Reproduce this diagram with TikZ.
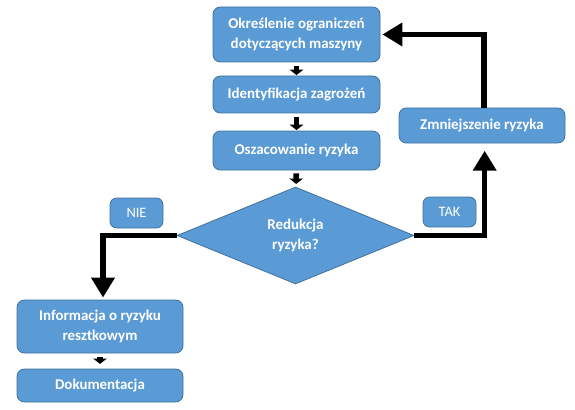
\documentclass[tikz,border=0pt]{standalone}
\usepackage{fontspec}
\setmainfont{Carlito}
\usetikzlibrary{shapes.geometric,arrows.meta}
\definecolor{boxfill}{HTML}{5B9BD5}
\definecolor{boxdraw}{HTML}{41719C}
\begin{document}
\begin{tikzpicture}[x=0.75pt,y=-0.75pt,
  box/.style={draw=boxdraw,fill=boxfill,rounded corners=5.5pt,line width=0.6pt,
    text=white,font=\bfseries\fontsize{11.2pt}{14.5pt}\selectfont,align=center,inner sep=0pt},
  lbl/.style={draw=boxdraw,fill=boxfill,rounded corners=5pt,line width=0.6pt,
    text=white,font=\fontsize{10.8pt}{12pt}\selectfont,align=center,inner sep=0pt,
    minimum width=39.75pt,minimum height=22.5pt},
  bigarrow/.style={line width=4.1pt,-{Triangle[length=15pt,width=17pt]}},
  smallarrow/.style={line width=4.2pt,-{Triangle[length=4pt,width=10pt]}}]
\useasboundingbox (0,0) rectangle (575,410);
\node[box,minimum width=125.25pt,minimum height=41.25pt] (b1) at (296.5,34.5) {Określenie ograniczeń\\dotyczących maszyny};
\node[box,minimum width=125.25pt,minimum height=27.75pt] (b2) at (296.5,94.5) {Identyfikacja zagrożeń};
\node[box,minimum width=125.25pt,minimum height=29.25pt] (b3) at (296.5,150.5) {Oszacowanie ryzyka};
\node[diamond,aspect=2.4,draw=boxdraw,fill=boxfill,line width=0.6pt,inner sep=0pt,
  minimum width=177.75pt,minimum height=72.75pt,text=white,
  font=\bfseries\fontsize{11.2pt}{14.5pt}\selectfont,align=center] (dia) at (295.5,235.5) {Redukcja\\ryzyka?};
\node[lbl] (nie) at (136.5,213) {NIE};
\node[lbl] (tak) at (449.5,212) {TAK};
\node[box,minimum width=124.5pt,minimum height=26.25pt] (zm) at (482,125.5) {Zmniejszenie ryzyka};
\node[box,minimum width=124.5pt,minimum height=39.75pt] (inf) at (100,326.5) {Informacja o ryzyku\\resztkowym};
\node[box,minimum width=124.5pt,minimum height=24.75pt] (dok) at (100,385.5) {Dokumentacja};
\draw[smallarrow,shorten <=3pt,shorten >=0.4pt] (b1) -- (b2);
\draw[smallarrow,shorten <=3pt,shorten >=0.4pt] (b2) -- (b3);
\draw[smallarrow,shorten <=2.2pt,shorten >=2.2pt] (b3) -- (dia);
\draw[smallarrow,shorten <=3pt,shorten >=3.5pt] (inf) -- (dok);
\draw[bigarrow,shorten >=5.5pt] (dia.east) -| ([xshift=2pt]zm.south);
\draw[bigarrow,shorten >=1.5pt] ([xshift=1.5pt]zm.north) |- (b1.east);
\draw[bigarrow,shorten >=1.5pt] (dia.west) -| ([xshift=2.25pt]inf.north);
\end{tikzpicture}
\end{document}
